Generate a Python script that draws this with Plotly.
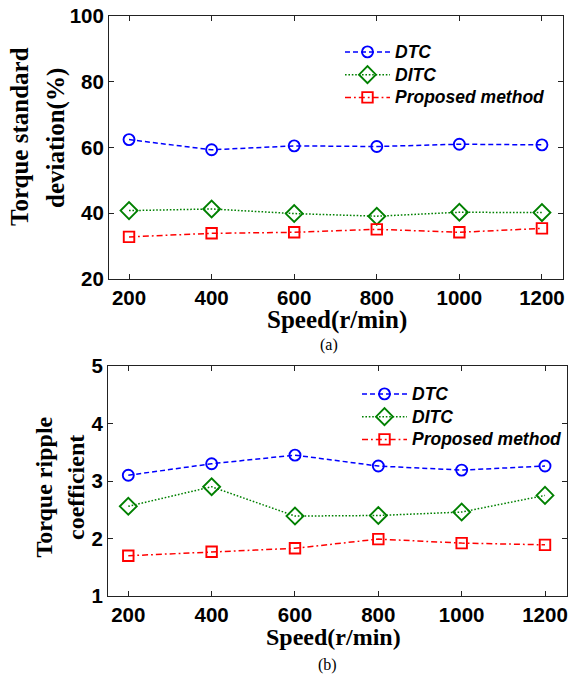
import plotly.graph_objects as go

W, H = 569, 677

speed = [200, 400, 600, 800, 1000, 1200]
series_names = ["DTC", "DITC", "Proposed method"]

# (a) Torque standard deviation (%)
std_dtc = [62.4, 59.3, 60.5, 60.3, 61.0, 60.8]
std_ditc = [40.8, 41.3, 39.9, 39.1, 40.3, 40.2]
std_prop = [32.8, 33.9, 34.2, 35.1, 34.2, 35.4]

# (b) Torque ripple coefficient
rip_dtc = [3.10, 3.30, 3.45, 3.26, 3.19, 3.26]
rip_ditc = [2.56, 2.90, 2.39, 2.40, 2.46, 2.75]
rip_prop = [1.70, 1.77, 1.83, 1.99, 1.92, 1.89]

ytick_a = [20, 40, 60, 80, 100]
ytick_b = [1, 2, 3, 4, 5]

styles = [
    dict(color="#0000FF", dash="5px,3px", symbol="circle-open", size=11),
    dict(color="#008000", dash="1.6px,1.8px", symbol="diamond-open", size=13),
    dict(color="#FF0000", dash="6px,3px,1.8px,3px", symbol="square-open", size=10.5),
]

fig = go.Figure()

def add_series(vals, xa, ya, leg):
    for name, v, s in zip(series_names, vals, styles):
        fig.add_trace(go.Scatter(
            x=speed, y=v,
            name='<span style="font-size:17.5px">' + name + '</span>',
            mode="lines+markers",
            xaxis=xa, yaxis=ya, legend=leg,
            line=dict(color=s["color"], dash=s["dash"], width=1.5),
            marker=dict(symbol=s["symbol"], size=s["size"], color=s["color"],
                        line=dict(width=1.9, color=s["color"])),
        ))

add_series([std_dtc, std_ditc, std_prop], "x", "y", "legend")
add_series([rip_dtc, rip_ditc, rip_prop], "x2", "y2", "legend2")

def px_x(p):
    return p / W

def px_y(p):
    return 1 - p / H

tickfont = dict(family="Liberation Sans, Arial", size=20.5, color="black", weight="bold")
axis_common = dict(showline=True, linecolor="#222222", linewidth=1, mirror="ticks",
                   ticks="inside", ticklen=5, tickcolor="#222222", showgrid=False,
                   zeroline=False, tickfont=tickfont, automargin=False)

legfont = dict(family="Liberation Sans, Arial", size=15.2, color="black",
               weight="bold", style="italic")

fig.update_layout(
    width=W, height=H, margin=dict(l=0, r=0, t=0, b=0, pad=0, autoexpand=False),
    paper_bgcolor="white", plot_bgcolor="white",
    xaxis=dict(domain=[px_x(109), px_x(563)], range=[151.5, 1251], tickvals=speed,
               anchor="y", **axis_common),
    yaxis=dict(domain=[px_y(279), px_y(16)], range=[20, 100], tickvals=ytick_a,
               anchor="x", **axis_common),
    xaxis2=dict(domain=[px_x(108), px_x(567)], range=[151.3, 1252.8], tickvals=speed,
                anchor="y2", **axis_common),
    yaxis2=dict(domain=[px_y(596), px_y(366)], range=[1, 5], tickvals=ytick_b,
                anchor="x2", **axis_common),
    legend=dict(x=px_x(340), y=px_y(35.5), xanchor="left", yanchor="top",
                bgcolor="rgba(0,0,0,0)", tracegroupgap=0, itemwidth=45, font=legfont),
    legend2=dict(x=px_x(357), y=px_y(377.5), xanchor="left", yanchor="top",
                 bgcolor="rgba(0,0,0,0)", tracegroupgap=0, itemwidth=45, font=legfont),
    showlegend=True,
)

title_font = dict(family="Liberation Serif, Times New Roman", size=25, color="black", weight="bold")
title_font_b = dict(title_font, size=24)
cap_font = dict(family="Liberation Serif, Times New Roman", size=16, color="black")

annots = [
    # x titles
    dict(text="Speed(r/min)", x=px_x(337), y=px_y(320), font=title_font, textangle=0),
    dict(text="Speed(r/min)", x=px_x(333), y=px_y(637), font=title_font_b, textangle=0),
    # y titles
    dict(text="Torque standard", x=px_x(20), y=px_y(137), font=title_font, textangle=-90),
    dict(text="deviation(%)", x=px_x(56), y=px_y(138), font=title_font, textangle=-90),
    dict(text="Torque ripple", x=px_x(43.5), y=px_y(487), font=title_font_b, textangle=-90),
    dict(text="coefficient", x=px_x(76), y=px_y(488), font=title_font_b, textangle=-90),
    # captions
    dict(text="(a)", x=px_x(329), y=px_y(345), font=cap_font, textangle=0),
    dict(text="(b)", x=px_x(327), y=px_y(665), font=cap_font, textangle=0),
]
for a in annots:
    fig.add_annotation(xref="paper", yref="paper", showarrow=False,
                       xanchor="center", yanchor="middle", **a)

fig.write_html("out.html")
